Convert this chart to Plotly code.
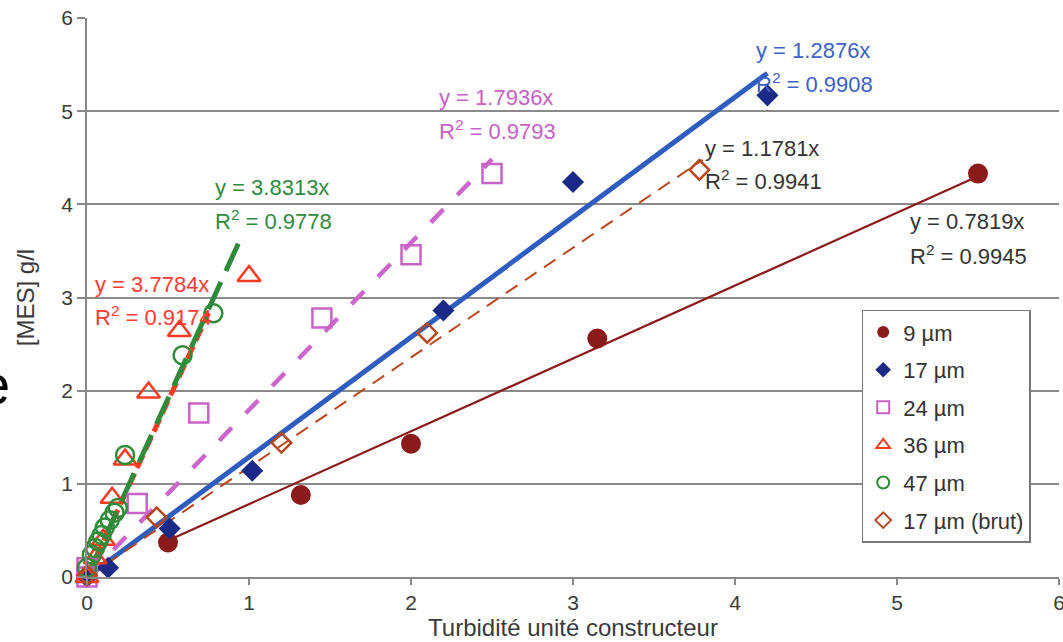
import plotly.graph_objects as go

# ---------------- data ----------------
series_names = ["9 µm", "17 µm", "24 µm", "36 µm", "47 µm", "17 µm (brut)"]

x9 = [0.50, 1.32, 2.00, 3.15, 5.50]
y9 = [0.37, 0.88, 1.43, 2.56, 4.33]

x17 = [0.00, 0.13, 0.51, 1.02, 2.20, 3.00, 4.20]
y17 = [0.00, 0.10, 0.52, 1.14, 2.86, 4.24, 5.17]

x24 = [0.00, 0.00, 0.31, 0.69, 1.45, 2.00, 2.50]
y24 = [0.00, 0.10, 0.79, 1.76, 2.78, 3.46, 4.33]

x36 = [0.00, 0.05, 0.10, 0.155, 0.235, 0.38, 0.57, 1.00]
y36 = [0.00, 0.20, 0.40, 0.85, 1.26, 1.98, 2.64, 3.23]

x47 = [0.00, 0.03, 0.05, 0.07, 0.09, 0.11, 0.14, 0.17, 0.19, 0.235, 0.59, 0.78]
y47 = [0.10, 0.24, 0.31, 0.38, 0.45, 0.53, 0.61, 0.69, 0.74, 1.31, 2.38, 2.83]

xbrut = [0.00, 0.43, 1.20, 2.10, 3.78]
ybrut = [0.02, 0.64, 1.44, 2.62, 4.37]

# linear trendlines through origin: slope, R², x-range
slopes = [0.7819, 1.2876, 1.7936, 3.7784, 3.8313, 1.1781]
r2 = [0.9945, 0.9908, 0.9793, 0.9174, 0.9778, 0.9941]
trend_x0 = [0.50, 0.0, 0.0, 0.0, 0.0, 0.0]
trend_x1 = [5.50, 4.20, 2.50, 0.75, 0.945, 3.80]

xs = [x9, x17, x24, x36, x47, xbrut]
ys = [y9, y17, y24, y36, y47, ybrut]

# ---------------- styles ----------------
marker_styles = [
    dict(symbol="circle", color="#8B1A1A", size=20),
    dict(symbol="diamond", color="#1B2A86", size=17),
    dict(symbol="square-open", color="#C763C7", size=19, line=dict(width=2.5, color="#C763C7")),
    dict(symbol="triangle-up-open", color="#FF3A22", size=20, line=dict(width=2.5, color="#FF3A22")),
    dict(symbol="circle-open", color="#2E8B3A", size=18, line=dict(width=2.5, color="#2E8B3A")),
    dict(symbol="diamond-open", color="#B8461E", size=15, line=dict(width=2.5, color="#B8461E")),
]
trend_styles = [
    dict(color="#8B1A1A", width=2.2, dash="solid"),
    dict(color="#2E5CBF", width=5, dash="solid"),
    dict(color="#CC66CC", width=4.5, dash="18px,20px"),
    dict(color="#FF3A22", width=5, dash="14px,6px"),
    dict(color="#2E8B3A", width=5, dash="30px,12px"),
    dict(color="#B8461E", width=2, dash="14px,9px"),
]
label_colors = ["#333333", "#3B62C4", "#C560C5", "#FF3B2F", "#2E8B3E", "#333333"]
# label positions (left x, y of first line, y of second line) in data units
label_pos = [
    (5.07, 3.82, 3.455),
    (4.12, 5.65, 5.30),
    (2.16, 5.15, 4.80),
    (0.037, 3.14, 2.80),
    (0.78, 4.18, 3.83),
    (3.80, 4.60, 4.26),
]

FONT = "Arial, 'Liberation Sans', Helvetica, sans-serif"

fig = go.Figure()

# trendlines
for i in range(6):
    tx = [trend_x0[i], trend_x1[i]]
    ty = [slopes[i] * v for v in tx]
    fig.add_trace(go.Scatter(x=tx, y=ty, mode="lines", line=trend_styles[i],
                             showlegend=False, hoverinfo="skip", cliponaxis=False))

# data series
for i in range(6):
    fig.add_trace(go.Scatter(x=xs[i], y=ys[i], mode="markers", name=series_names[i],
                             marker=marker_styles[i], legendgroup=f"g{i}",
                             cliponaxis=False))

annotations = []
for i in range(6):
    lx, ly1, ly2 = label_pos[i]
    annotations.append(dict(x=lx, y=ly1, xref="x", yref="y", xanchor="left", yanchor="middle",
                            text=f"y = {slopes[i]:.4f}x", showarrow=False,
                            font=dict(size=22, color=label_colors[i], family=FONT)))
    annotations.append(dict(x=lx, y=ly2, xref="x", yref="y", xanchor="left", yanchor="middle",
                            text=f"R<sup>2</sup> = {r2[i]:.4f}", showarrow=False,
                            font=dict(size=22, color=label_colors[i], family=FONT)))

# stray glyph from the source page at the left edge
annotations.append(dict(x=-0.0772, y=0.3435, xref="paper", yref="paper", xanchor="right",
                        yanchor="middle", text="e", showarrow=False,
                        font=dict(size=56, color="black", family=FONT)))

fig.update_layout(
    width=1063, height=642,
    margin=dict(l=87, r=4, t=18, b=65, autoexpand=False),
    paper_bgcolor="white", plot_bgcolor="white",
    font=dict(family=FONT, color="#3a3a3a"),
    annotations=annotations,
    legend=dict(x=0.797, y=0.478, xanchor="left", yanchor="top",
                bgcolor="white", bordercolor="#777777", borderwidth=1.5,
                font=dict(size=22, color="#333333", family=FONT),
                tracegroupgap=6, itemsizing="constant", itemwidth=30),
    xaxis=dict(range=[0, 6], tickvals=[0, 1, 2, 3, 4, 5, 6], showgrid=False, zeroline=False,
               showline=True, linecolor="#888888", linewidth=1.5, automargin=False,
               ticks="outside", ticklen=6, tickcolor="#888888", tickwidth=1.5,
               ticklabeloverflow="allow",
               tickfont=dict(size=21, color="#3a3a3a"),
               title=dict(text="Turbidité unité constructeur", font=dict(size=24, color="#3a3a3a"),
                          standoff=0)),
    yaxis=dict(range=[0, 6], tickvals=[0, 1, 2, 3, 4, 5, 6], showgrid=True,
               gridcolor="#8a8a8a", gridwidth=1.5, zeroline=False,
               showline=True, linecolor="#888888", linewidth=1.5, automargin=False,
               ticks="outside", ticklen=8, tickcolor="#888888", tickwidth=1.5,
               tickfont=dict(size=21, color="#3a3a3a"),
               title=dict(text="[MES] g/l", font=dict(size=24, color="#3a3a3a"), standoff=20)),
)

fig.write_html("out.html")
